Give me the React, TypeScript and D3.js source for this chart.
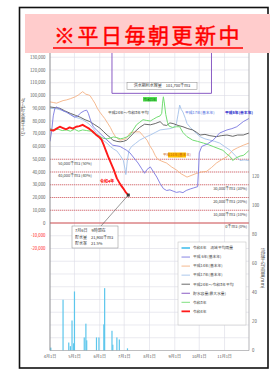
import React from 'react';
import * as d3 from 'd3';

const W = 271;
const H = 376;
const FONT = "'Noto Sans CJK JP', 'Noto Sans', sans-serif";

// ---- data ----
const bannerText = '※平日毎朝更新中';
const monthLabels = ['4月1日', '5月1日', '6月1日', '7月1日', '8月1日', '9月1日', '10月1日', '11月1日'];
const leftTicks = [130000, 120000, 110000, 100000, 90000, 80000, 70000, 60000, 50000, 40000, 30000, 20000, 10000, 0, -10000, -20000];
const rightTicks = [0, 20, 40, 60, 80, 100, 120];
const levelValues = [50000, 40000, 30000, 20000, 10000, 0];
const levelLabels = ['50,000千m3 (50%)', '40,000千m3 (40%)', '30,000千m3 (30%)', '20,000千m3 (20%)', '10,000千m3 (10%)', '0千m3 (0%)'];

// [day offset from 4/1, storage 千m3]
const reiwa4: [number, number][] = [[0,73000],[4,72500],[8,74000],[12,75500],[16,74500],[20,73500],[24,75000],[28,74000],[32,75500],[36,76000],[40,77000],[44,75500],[48,74000],[52,72000],[56,69500],[60,67500],[63,65500],[66,61000],[69,56000],[72,51000],[75,46500],[78,42000],[82,35000],[86,30500],[90,27000],[93,24000],[96,21900]];
const reiwa3: [number, number][] = [[0,74000],[5,73000],[10,73500],[15,72500],[20,73000],[25,72000],[30,73500],[35,72000],[40,73000],[45,72500],[50,72000],[55,70000],[61,68000],[65,66500],[70,66000],[74,66700],[78,67500],[82,67000],[86,66000],[90,66500],[94,67500],[98,69000],[102,73000],[106,77000],[110,79000],[114,81000],[118,80500],[123,80000],[127,81500],[131,83000],[135,84000],[137,86000],[138,94000],[139,99000],[140,95000],[142,85000],[144,79000],[146,76000],[150,75000],[155,75500],[159,75500],[163,71000],[168,67700],[175,65000],[181,64000],[188,62700],[194,61500],[200,60000],[206,58500],[212,57000],[217,54000],[221,52000],[224,49000],[228,51000],[233,52500],[237,53000],[241,55000],[244,57000]];
const heisei6: [number, number][] = [[0,64000],[2,72000],[4,84000],[6,90000],[8,91000],[12,89500],[16,88000],[20,87000],[25,85000],[30,83000],[34,84000],[38,86500],[42,88000],[45,88500],[47,86000],[50,80000],[53,75500],[57,73000],[61,70500],[65,68000],[70,65000],[77,61000],[82,60500],[86,60000],[90,58500],[94,57000],[98,55000],[103,51000],[108,47000],[112,43000],[116,39000],[119,42000],[123,44000],[127,40000],[131,36000],[135,31000],[139,27000],[143,25500],[147,26000],[151,25000],[155,24000],[159,24500],[163,23800],[167,25500],[172,26700],[176,27500],[181,28500],[182,40000],[183,55000],[186,60000],[193,62000],[200,65000],[208,70600],[217,73000],[223,74000],[229,75500],[237,79500],[244,82000]];
const heisei14: [number, number][] = [[0,95000],[4,94500],[8,94000],[12,95000],[16,96000],[20,96500],[25,97500],[31,99000],[35,100500],[38,102000],[40,103000],[42,102000],[44,101000],[47,100500],[49,100000],[52,97000],[55,94000],[58,90000],[61,87000],[64,84500],[67,82000],[71,78000],[74,75000],[77,71000],[80,68000],[83,66000],[86,65000],[90,65500],[93,66000],[96,68500],[98,70600],[104,71500],[110,71500],[114,68500],[119,65000],[122,61000],[126,57000],[129,53000],[132,50000],[137,48500],[143,47000],[149,44000],[155,41600],[161,38500],[168,36000],[174,37500],[180,39000],[186,40000],[192,40500],[198,43500],[204,47000],[210,49500],[217,52000],[224,57000],[230,59000],[237,61000],[244,62700]];
const heisei17: [number, number][] = [[0,90000],[8,89500],[14,88500],[20,87000],[26,85000],[31,83000],[36,82000],[40,81000],[45,79000],[49,77000],[53,74000],[57,70600],[61,68000],[65,65000],[70,62500],[74,60000],[78,58000],[82,56500],[86,53000],[90,49000],[92,42000],[93,38000],[95,50000],[97,57000],[100,60000],[105,62500],[110,65000],[116,67000],[123,69000],[129,71000],[135,73000],[141,73500],[147,74000],[152,75000],[155,78000],[157,85000],[159,92500],[161,89000],[163,87000],[166,82000],[168,78000],[172,75000],[175,73000],[180,70000],[184,67700],[190,66000],[196,65000],[202,64000],[208,62700],[214,60000],[221,57000],[227,53000],[233,49000],[238,49500],[244,49000]];
const average: [number, number][] = [[0,91000],[6,90500],[12,90000],[18,88000],[25,86000],[31,84500],[37,83000],[43,81000],[49,79500],[55,77000],[61,74500],[66,71500],[70,69000],[74,67000],[77,65000],[82,64000],[86,63700],[90,64000],[94,65000],[98,67500],[104,71500],[110,75000],[116,77500],[123,77000],[129,78000],[135,79500],[139,77000],[143,76500],[147,78500],[151,78000],[157,76500],[163,75500],[169,74000],[175,73000],[180,71000],[184,69000],[190,69500],[196,68500],[204,67700],[210,68500],[217,69000],[224,68000],[230,69000],[237,69000],[244,70600]];
const capacity: [number, number][] = [[0,150000],[76,150000],[76,101700],[198,101700],[198,150000],[244,150000]];

const rainDays = [1, 16, 23, 25, 27, 29, 30, 42, 44, 45, 57, 60, 66, 67, 76, 77, 82, 85, 95];
const rainMm = [2, 35, 5.5, 3, 20.7, 5, 40.7, 9, 18.5, 7, 9, 9, 18, 43, 13.6, 4, 9, 7.6, 1.5];

const legendLabels = ['令和4年　流域平均雨量', '平成 6年(基本年)', '平成14年(基本年)', '平成17年(基本年)', '平成24年～令和3年平均', '貯水容量(最大水量)', '令和3年', '令和4年'];
const legendColors = ['#6cccf0', '#7a78e0', '#f4b183', '#a4c2ea', '#595959', '#8a5cc4', '#72dc72', '#ff1a1a'];
const legendWidths = [2, 0.9, 0.9, 0.9, 0.9, 1, 0.9, 1.8];

const START = new Date(2022, 3, 1);
const END = new Date(2022, 11, 1);
const dd = (d: number) => d3.timeDay.offset(START, d);

export default function App() {
  const left = 50, right = 249, top = 44.5, bottom = 350.5;
  const x = d3.scaleTime().domain([START, END]).range([left, right]);
  const y = d3.scaleLinear().domain([-100000, 140000]).range([bottom, top]);
  const yr = d3.scaleLinear().domain([0, 211]).range([bottom, top]);
  const line = d3.line<[number, number]>().x((p) => x(dd(p[0]))).y((p) => y(p[1]));
  const fmt = d3.format(',');
  const fmtSigned = (v: number) => (v < 0 ? '-' + fmt(-v) : fmt(v));
  const months = d3.timeMonth.range(START, d3.timeDay.offset(END, 1));
  const grid = d3.range(-100000, 140001, 10000);
  const last = reiwa4[reiwa4.length - 1];
  const endX = x(dd(last[0]));
  const endY = y(last[1]);

  const series = [
    { data: heisei14, color: legendColors[2], w: 0.9 },
    { data: heisei17, color: legendColors[3], w: 0.9 },
    { data: average, color: legendColors[4], w: 0.9 },
    { data: reiwa3, color: legendColors[6], w: 1 },
    { data: heisei6, color: legendColors[1], w: 0.9 },
    { data: reiwa4, color: legendColors[7], w: 1.9 },
  ];

  return (
    <svg width={W} height={H} style={{ position: 'absolute', left: 0, top: 0, background: '#fff' }} fontFamily={FONT}>
      <defs>
        <clipPath id="plot"><rect x={left} y={top} width={right - left} height={bottom - top} /></clipPath>
      </defs>
      <rect x={0} y={0} width={W} height={H} fill="#fff" />
      <rect x={19.5} y={7.5} width={248.5} height={360.5} fill="none" stroke="#111" strokeWidth={1.6} />

      {/* grid */}
      {grid.map((v) => (
        <line key={'h' + v} x1={left} x2={right} y1={y(v)} y2={y(v)} stroke="#dcdce6" strokeWidth={0.6} />
      ))}
      {months.map((m, i) => (
        <line key={'v' + i} x1={x(m)} x2={x(m)} y1={top} y2={bottom} stroke="#dcdce6" strokeWidth={0.6} />
      ))}

      {/* level lines */}
      {levelValues.map((v) => (
        <line key={'l' + v} x1={left} x2={right} y1={y(v)} y2={y(v)} stroke={v === 0 ? '#d04040' : '#e05a5a'} strokeWidth={v === 0 ? 0.9 : 0.8} strokeDasharray={v === 0 ? undefined : '1.2,0.8'} />
      ))}

      {/* rain bars */}
      {rainDays.map((d, i) => (
        <rect key={'r' + i} x={x(dd(d)) - 0.6} y={yr(rainMm[i])} width={1.2} height={bottom - yr(rainMm[i])} fill="#5cc6ec" />
      ))}

      <g clipPath="url(#plot)">
        <path d={line(capacity) || ''} fill="none" stroke={legendColors[5]} strokeWidth={1} />
        {series.map((s, i) => (
          <path key={'s' + i} d={line(s.data) || ''} fill="none" stroke={s.color} strokeWidth={s.w} strokeLinejoin="round" />
        ))}
      </g>

      {/* axes */}
      <line x1={left} x2={left} y1={top} y2={bottom} stroke="#7f7f7f" strokeWidth={0.8} />
      <line x1={right} x2={right} y1={top} y2={bottom} stroke="#9f9f9f" strokeWidth={0.6} />
      <line x1={left} x2={right} y1={bottom} y2={bottom} stroke="#9f9f9f" strokeWidth={0.6} />

      {leftTicks.map((v) => (
        <text key={'lt' + v} x={45.5} y={y(v)} dy="0.35em" textAnchor="end" fontSize={4.3} fill={v < 0 ? '#ff2020' : '#595959'}>{fmtSigned(v)}</text>
      ))}
      {rightTicks.map((v) => (
        <text key={'rt' + v} x={252} y={yr(v)} dy="0.35em" textAnchor="start" fontSize={4.3} fill="#595959">{v}</text>
      ))}
      {monthLabels.map((t, i) => (
        <text key={'mx' + i} x={x(months[i])} y={357} dy="0.35em" textAnchor="middle" fontSize={4} fill="#595959">{t}</text>
      ))}
      <text x={23} y={117} textAnchor="middle" fontSize={4.6} fill="#595959" style={{ writingMode: 'vertical-rl' } as any}>ダム貯水量(千m3)</text>
      <text x={263} y={268} textAnchor="middle" fontSize={4.8} fill="#595959" style={{ writingMode: 'vertical-rl' } as any}>流域平均雨量(mm)</text>

      {/* level labels */}
      {levelLabels.map((t, i) =>
        i < 2 ? (
          <text key={'ll' + i} x={58} y={y(levelValues[i]) + 4} dy="0.35em" fontSize={4} fill="#404040">{t}</text>
        ) : (
          <text key={'ll' + i} x={247} y={y(levelValues[i]) + 4} dy="0.35em" textAnchor="end" fontSize={4} fill="#404040">{t}</text>
        )
      )}

      {/* capacity label */}
      <rect x={127} y={82.5} width={70} height={7} fill="#fff" stroke="#888" strokeWidth={0.5} />
      <text x={162} y={86} dy="0.35em" textAnchor="middle" fontSize={4} fill="#333">洪水期利水容量　101,700千m3</text>

      {/* series labels */}
      <rect x={143} y={97} width={14} height={4.5} fill="#4fe04f" />
      <text x={150} y={99.3} dy="0.35em" textAnchor="middle" fontSize={3.6} fill="#0a6a0a">令和3年</text>
      <text x={108} y={113} dy="0.35em" fontSize={3.8} fill="#333">平成24年～令和3年平均</text>
      <text x={185} y={113} dy="0.35em" fontSize={3.8} fill="#4466dd">平成17年(基本年)</text>
      <text x={225} y={113} dy="0.35em" fontSize={3.8} fontWeight="bold" fill="#2a2acc">平成6年(基本年)</text>
      <rect x={168} y={152.5} width={18} height={5} fill="#ffc000" />
      <text x={177} y={155} dy="0.35em" textAnchor="middle" fontSize={3.6} fill="#c55a11">平成14年(基本年)</text>
      <text x={100} y={182} dy="0.35em" fontSize={4} fontWeight="bold" fill="#ff0000">令和4年</text>

      {/* annotation */}
      <line x1={101} y1={226} x2={endX} y2={endY} stroke="#555" strokeWidth={0.6} />
      <rect x={endX - 1.5} y={endY - 1.5} width={3} height={3} fill="#333" />
      <rect x={72} y={226} width={46} height={22} fill="#fff" stroke="#888" strokeWidth={0.5} />
      <text x={75} y={231} dy="0.35em" fontSize={4} fill="#333">7月6日　9時現在</text>
      <text x={75} y={237.5} dy="0.35em" fontSize={4} fill="#333">貯水量　21,900千m3</text>
      <text x={75} y={244} dy="0.35em" fontSize={4} fill="#333">貯水率　21.5%</text>

      {/* legend */}
      <rect x={178} y={242} width={68} height={83} fill="#fff" stroke="#bbb" strokeWidth={0.5} />
      {legendLabels.map((t, i) => {
        const ly = 248 + i * 9.05;
        return (
          <g key={'lg' + i}>
            <line x1={181.5} x2={190} y1={ly} y2={ly} stroke={legendColors[i]} strokeWidth={legendWidths[i]} />
            <text x={193} y={ly} dy="0.35em" fontSize={3.8} fill="#404040">{t}</text>
          </g>
        );
      })}

      {/* banner */}
      <rect x={25} y={14} width={245} height={39} fill="#ffcccc" />
      <text x={148} y={43} textAnchor="middle" fontSize={21} letterSpacing={2.5} fill="#ff0000" stroke="#ff0000" strokeWidth={0.45}>{bannerText}</text>
      <line x1={53} x2={243} y1={48} y2={48} stroke="#ff0000" strokeWidth={1.4} />
    </svg>
  );
}
